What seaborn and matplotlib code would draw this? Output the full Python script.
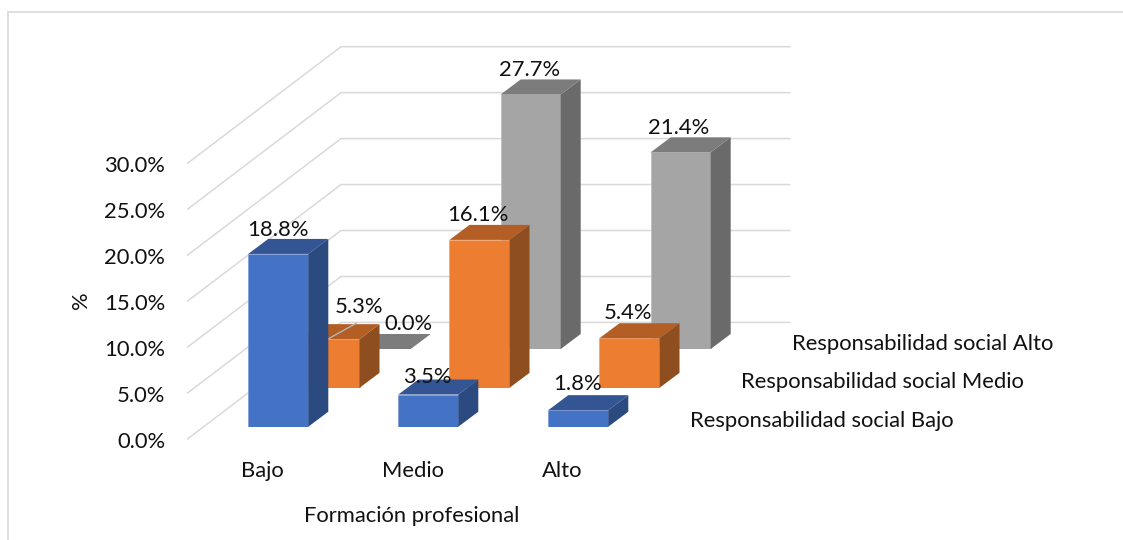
import matplotlib
matplotlib.use("Agg")
import matplotlib.pyplot as plt
import pandas as pd
import seaborn as sns
from matplotlib.lines import Line2D
from matplotlib.patches import Polygon
from matplotlib.transforms import ScaledTranslation

categories = ["Bajo", "Medio", "Alto"]
series_names = ["Responsabilidad social Bajo", "Responsabilidad social Medio", "Responsabilidad social Alto"]
rs_bajo = [18.8, 3.5, 1.8]
rs_medio = [5.3, 16.1, 5.4]
rs_alto = [0.0, 27.7, 21.4]
y_ticks = [0, 5, 10, 15, 20, 25, 30]

W, H = 1123, 540
FS = 15.8
sns.set_style("white")
plt.rcParams["font.family"] = ["Lato", "DejaVu Sans"]
plt.rcParams["font.size"] = FS
TXT = "#111111"
GRID = "#D9D9D9"
fig = plt.figure(figsize=(W / 100, H / 100), dpi=100, facecolor="white")


def px_axes(left, top, right, bottom):
    return fig.add_axes([left / W, 1 - bottom / H, (right - left) / W, (bottom - top) / H])


# outer chart frame
fig.add_artist(Line2D([8 / W, 8 / W], [0, 1 - 12 / H], color=GRID, lw=1.2))
fig.add_artist(Line2D([8 / W, 1], [1 - 12 / H, 1 - 12 / H], color=GRID, lw=1.2))

# walls: side wall diagonals + back wall gridlines
PX_PER_UNIT = 9.19
wall = px_axes(187.5, 46.7, 790, 439)
wall.patch.set_visible(False)
wall_top = (439 - 46.7) / PX_PER_UNIT
wall.set_xlim(0, 1)
wall.set_ylim(0, wall_top)
wall_dx = (341 - 187.5) / (790 - 187.5)
wall_dy = wall_top - 30
for t in y_ticks:
    wall.plot([0, wall_dx, 1], [t, t + wall_dy, t + wall_dy], color=GRID, lw=1.1, clip_on=False)
for sp in wall.spines.values():
    sp.set_visible(False)
wall.set_yticks(y_ticks)
wall.set_yticklabels([f"{t:.1f}%" for t in y_ticks], color=TXT)
wall.tick_params(axis="y", length=0, pad=16)
ydown = ScaledTranslation(0, -1 / 100, fig.dpi_scale_trans)
for lab in wall.get_yticklabels():
    lab.set_transform(lab.get_transform() + ydown)
wall.set_xticks([])
wall.set_ylabel("%", color=TXT, fontsize=FS, va="center")
wall.yaxis.set_label_coords((81 - 187.5) / 602.5, (439 - 300) / 392.3)
wall.set_xlabel("Formación profesional", color=TXT, fontsize=FS, va="center")
wall.xaxis.set_label_coords((412 - 187.5) / 602.5, (439 - 516) / 392.3)

# one axes per depth row, drawn back to front
values = [rs_bajo, rs_medio, rs_alto]
front = ["#4472C4", "#ED7D31", "#A5A5A5"]
top_c = ["#335593", "#B25E24", "#7C7C7C"]
side_c = ["#2B4A80", "#8F4E1F", "#6A6A6A"]
edge_c = ["#7F9BD6", "#F3A06A", "#BDBDBD"]
# label offset in px from the centre of the bar's front top edge
nudges = [[(0, -24), (-1, -18), (-1, -26)],
          [(29, -32), (-2, -25), (-2, -25)],
          [(28, -25), (-1, -24), (-2, -24)]]
name_offset = [(37, -6), (37, -6), (36, -5)]
depth_x = 20 / 150
depth_y = 15 / PX_PER_UNIT

for s in [2, 1, 0]:
    left = 203.3 + 51.2 * s
    bottom = 426.7 - 38.85 * s
    ax = px_axes(left, bottom - 30 * PX_PER_UNIT, left + 450, bottom)
    ax.patch.set_visible(False)
    df = pd.DataFrame({"cat": categories, "value": values[s]})
    sns.barplot(data=df, x="cat", y="value", order=categories, color=front[s], saturation=1,
                width=0.4, ax=ax, errorbar=None, edgecolor=edge_c[s], linewidth=0.5)
    ax.set_xlim(-0.5, 2.5)
    ax.set_ylim(0, 30)
    ax.set_xlabel("")
    ax.set_ylabel("")
    ax.set_yticks([])
    for sp in ax.spines.values():
        sp.set_visible(False)
    if s == 0:
        ax.set_xticks(range(3))
        ax.set_xticklabels(categories, color=TXT)
        ax.tick_params(axis="x", length=0, pad=25)
        shift = ScaledTranslation(-15.8 / 100, 0, fig.dpi_scale_trans)
        for lab in ax.get_xticklabels():
            lab.set_transform(lab.get_transform() + shift)
    else:
        ax.set_xticks([])
    for i, bar in enumerate(list(ax.patches)):
        x0, w, h = bar.get_x(), bar.get_width(), bar.get_height()
        x1 = x0 + w
        ax.add_patch(Polygon([(x1, 0), (x1 + depth_x, depth_y), (x1 + depth_x, h + depth_y), (x1, h)],
                             closed=True, facecolor=side_c[s], edgecolor="none", clip_on=False))
        ax.add_patch(Polygon([(x0, h), (x0 + depth_x, h + depth_y), (x1 + depth_x, h + depth_y), (x1, h)],
                             closed=True, facecolor=top_c[s], edgecolor="none", clip_on=False))
        nx, ny = nudges[s][i]
        ax.annotate(f"{values[s][i]:.1f}%", xy=(x0 + w / 2, h), xytext=(nx * 0.72, -ny * 0.72),
                    textcoords="offset points", ha="center", va="center", color=TXT,
                    annotation_clip=False, zorder=6)
    if s == 1:
        # leader line from the 5.3% label to its bar
        bar = ax.patches[0]
        ax.annotate("", xy=(bar.get_x() + 28.3 / 150, bar.get_height()), xytext=(28.5 * 0.72, 16 * 0.72),
                    textcoords=("offset points"), annotation_clip=False,
                    arrowprops=dict(arrowstyle="-", color="#B5B5B5", lw=1.0, shrinkA=0, shrinkB=0))
    ox, oy = name_offset[s]
    ax.annotate(series_names[s], xy=(1, 0), xycoords="axes fraction", xytext=(ox * 0.72, -oy * 0.72),
                textcoords="offset points", ha="left", va="center", color=TXT, annotation_clip=False)

fig.savefig("out.png", dpi=100, facecolor="white")
